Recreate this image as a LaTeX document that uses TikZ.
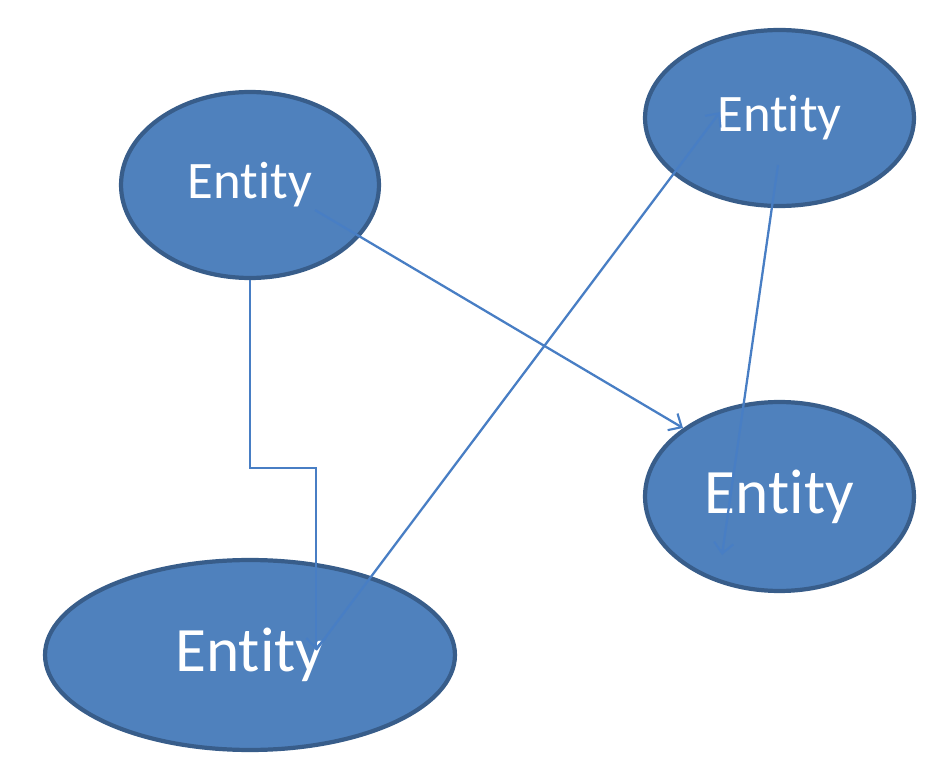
\documentclass[tikz,border=0pt]{standalone}
\usepackage{fontspec}
\setmainfont{Carlito}[Ligatures=NoCommon]
\usetikzlibrary{shapes.geometric,arrows.meta,calc}

\definecolor{entityfill}{RGB}{79,129,189}
\definecolor{entityline}{RGB}{56,93,138}
\definecolor{linkblue}{RGB}{72,126,196}

\begin{document}
\begin{tikzpicture}[
        x=0.02cm, y=-0.02cm,
        entity/.style={
            ellipse, draw=entityline, line width=2.4pt,
            fill=entityfill, text=white, inner sep=0pt,
            font=\fontsize{30}{34}\selectfont
        },
        entitybig/.style={
            entity, font=\fontsize{36}{40}\selectfont
        },
        link/.style={
            draw=linkblue, line width=1.3pt,
            -{Straight Barb[length=6pt,width=11pt,line width=1.2pt]}
        }
    ]

    \useasboundingbox (0,0) rectangle (948,757);

    % Entities
    \node[entity, minimum width=5.16cm, minimum height=3.72cm]
        (e1) at (250,185) {Entity};
    \node[entity, minimum width=5.38cm, minimum height=3.52cm]
        (e2) at (779.5,118) {Entity};
    \node[entitybig, minimum width=5.38cm, minimum height=3.78cm]
        (e3) at (779.5,496.5) {Entity};
    \node[entitybig, minimum width=8.2cm, minimum height=3.8cm]
        (e4) at (250,655) {Entity};

    % Link end points inside the entities
    \coordinate (e1out) at ($(e1.center)+(65,25)$);
    \coordinate (e2in)  at ($(e2.center)+(-59.5,-6)$);
    \coordinate (e2out) at ($(e2.center)+(-1.5,47)$);
    \coordinate (e3in)  at ($(e3.center)+(-96.5,-68.5)$);
    \coordinate (e3low) at ($(e3.center)+(-57.5,58.5)$);
    \coordinate (e4pt)  at ($(e4.center)+(66,-5)$);

    % Links
    \draw[link] (e1out) -- (e3in);
    \draw[link] (e1.south) -- ++(0,188) -| (e4pt);
    \draw[link] (e4pt) -- (e2in);
    \draw[link] (e2out) -- (e3low);

\end{tikzpicture}
\end{document}
